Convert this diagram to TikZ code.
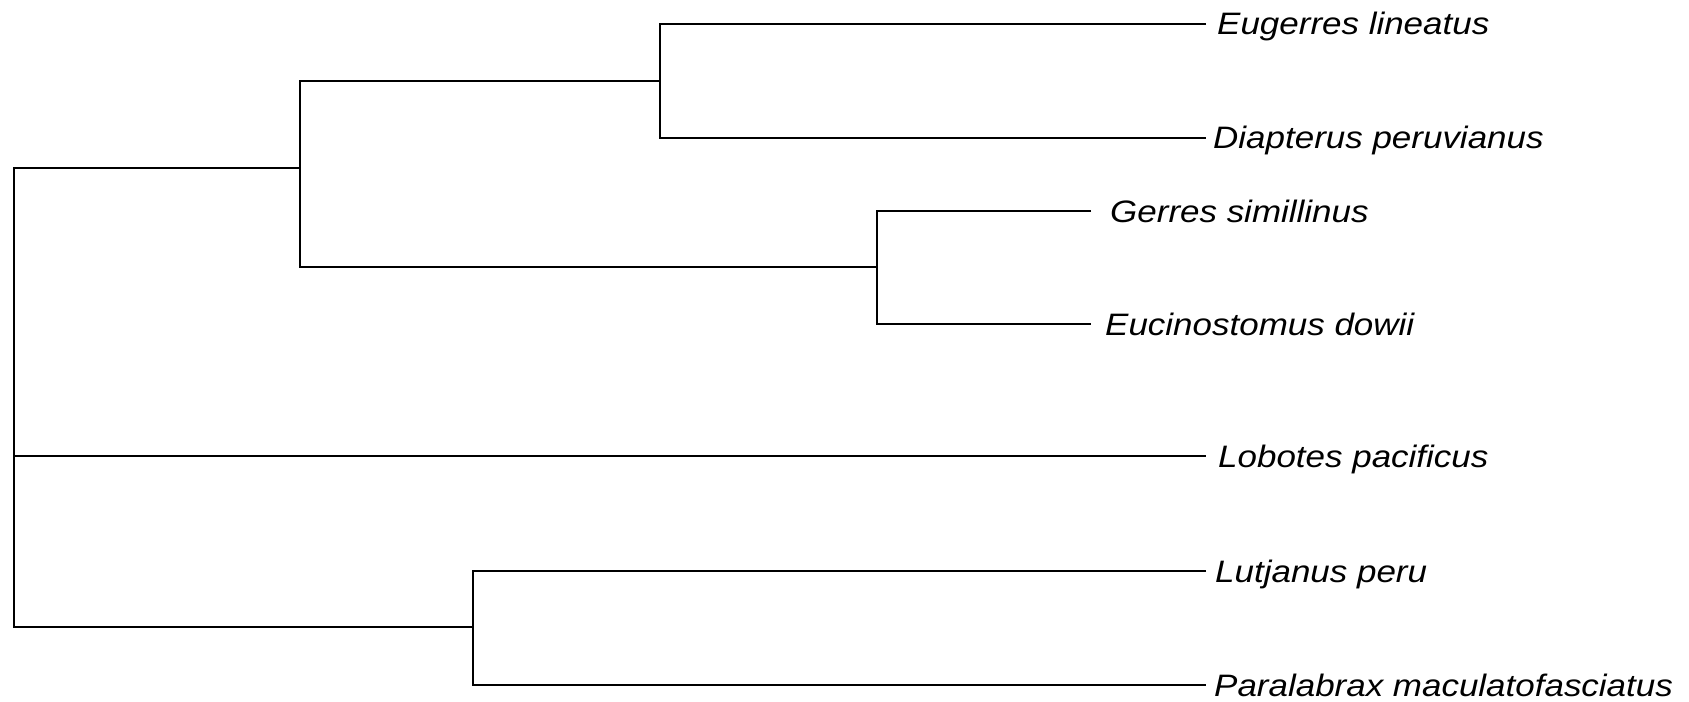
\documentclass[tikz,border=0pt]{standalone}
\usepackage{fontspec}
\usepackage{graphicx}
\newfontfamily\labfont{Liberation Sans}
\tikzset{
  branch/.style={line width=1.6bp, black},
  leaflabel/.style={anchor=base west, inner sep=0pt, font=\labfont\itshape\fontsize{31bp}{37bp}\selectfont}
}
\newcommand{\specname}[1]{\scalebox{1.128}[1]{#1}}
\begin{document}
\begin{tikzpicture}[x=1bp,y=-1bp]
\useasboundingbox (0,0) rectangle (1689,702);
% internal nodes
\coordinate (r) at (14,456);
\coordinate (A) at (300,168);
\coordinate (B) at (660,81);
\coordinate (C) at (877,267);
\coordinate (D) at (473,627);
% leaf tips
\coordinate (tE) at (1206,24);
\coordinate (tDi) at (1206,138);
\coordinate (tG) at (1091,211);
\coordinate (tEu) at (1091,324);
\coordinate (tL) at (1206,456);
\coordinate (tLu) at (1206,571);
\coordinate (tP) at (1206,685);
% labels
\node[leaflabel] (lE) at (1217,35) {\specname{Eugerres lineatus}};
\node[leaflabel] (lDi) at (1213,149) {\specname{Diapterus peruvianus}};
\node[leaflabel] (lG) at (1110,222) {\specname{Gerres simillinus}};
\node[leaflabel] (lEu) at (1105,335) {\specname{Eucinostomus dowii}};
\node[leaflabel] (lL) at (1218,467) {\specname{Lobotes pacificus}};
\node[leaflabel] (lLu) at (1215,582) {\specname{Lutjanus peru}};
\node[leaflabel] (lP) at (1214,696) {\specname{Paralabrax maculatofasciatus}};
% branches
\draw[branch] (A) -| (r) |- (D);
\draw[branch] (r) -- (tL);
\draw[branch] (B) -| (A) |- (C);
\draw[branch] (tE) -| (B) |- (tDi);
\draw[branch] (tG) -| (C) |- (tEu);
\draw[branch] (tLu) -| (D) |- (tP);
\end{tikzpicture}
\end{document}
